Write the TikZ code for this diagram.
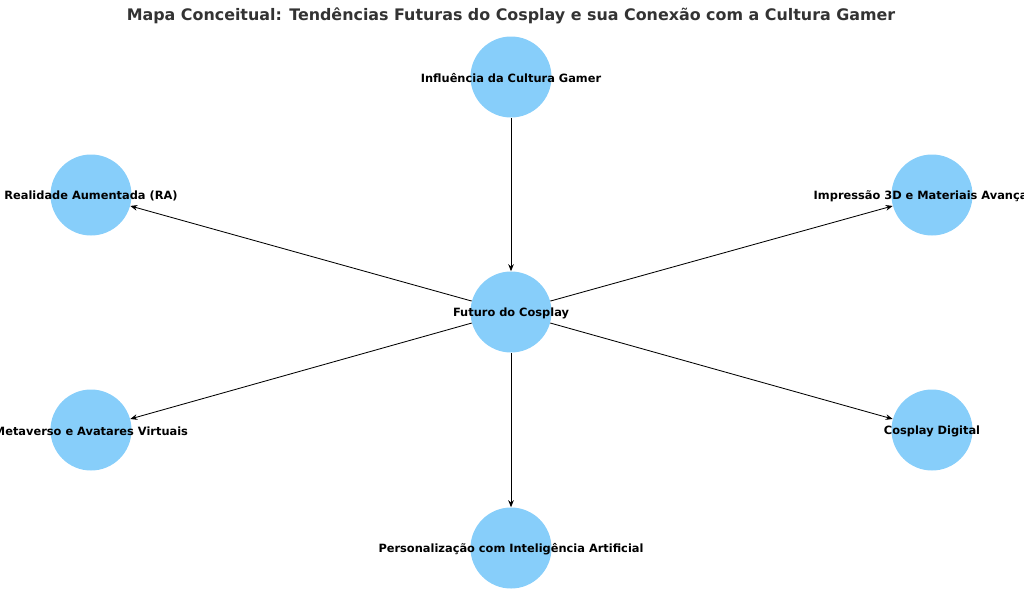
\documentclass[tikz,border=0pt]{standalone}
\usepackage{fontspec}
\setmainfont{DejaVu Sans}
\usetikzlibrary{arrows.meta}
\definecolor{nodeblue}{HTML}{87CEFA}
\definecolor{titlegray}{HTML}{333333}
\tikzset{
  concept/.style={circle,fill=nodeblue,minimum size=81*0.025cm,inner sep=0pt},
  lbl/.style={font=\bfseries\fontsize{8.1}{10}\selectfont,text=black},
  link/.style={-{Stealth[length=5pt,width=4pt]},black,line width=0.6pt}
}
\begin{document}
\begin{tikzpicture}[x=0.025cm,y=-0.025cm]
\useasboundingbox (0,0) rectangle (1024,606);
\node[font=\bfseries\fontsize{11.3}{13}\selectfont,text=titlegray] (title) at (511,16) {Mapa Conceitual: Tendências Futuras do Cosplay e sua Conexão com a Cultura Gamer};
\node[concept] (c) at (511,312) {};
\node[concept] (g) at (511,77) {};
\node[concept] (ra) at (91,195) {};
\node[concept] (p3d) at (932,195) {};
\node[concept] (mv) at (91,430) {};
\node[concept] (cd) at (932,430) {};
\node[concept] (ia) at (511,548) {};
\node[lbl] at ([yshift=-1pt]c) {Futuro do Cosplay};
\node[lbl] at ([yshift=-1pt]g) {Influência da Cultura Gamer};
\node[lbl] at ([yshift=-1pt]ra) {Realidade Aumentada (RA)};
\node[lbl] at ([yshift=-1pt]p3d) {Impressão 3D e Materiais Avançados};
\node[lbl] at ([yshift=-1pt]mv) {Metaverso e Avatares Virtuais};
\node[lbl] at ([yshift=-1pt]cd) {Cosplay Digital};
\node[lbl] at ([yshift=-1pt]ia) {Personalização com Inteligência Artificial};
\draw[link] (g) -- (c);
\draw[link] (c) -- (ra);
\draw[link] (c) -- (p3d);
\draw[link] (c) -- (mv);
\draw[link] (c) -- (cd);
\draw[link] (c) -- (ia);
\end{tikzpicture}
\end{document}
